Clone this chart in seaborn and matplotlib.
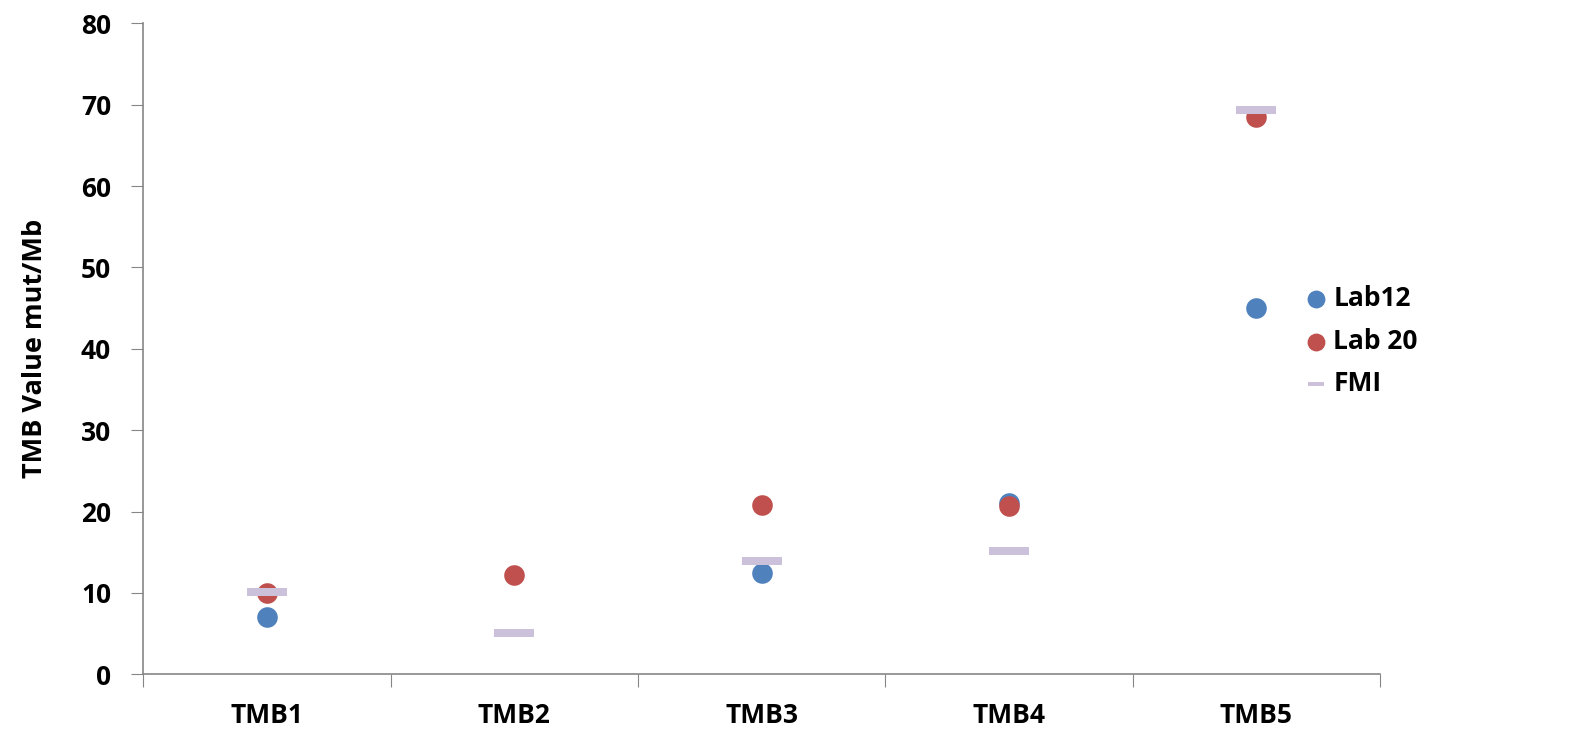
import matplotlib.pyplot as plt
import pandas as pd
import numpy as np
import seaborn as sb
from matplotlib.path import Path

samples = ["TMB1", "TMB2", "TMB3", "TMB4", "TMB5"]
lab12 = [7.1, np.nan, 12.5, 21.0, 45.0]
lab20 = [10.0, 12.2, 20.8, 20.7, 68.5]
fmi = [10.1, 5.1, 13.9, 15.2, 69.4]

sb.set_style("white")
plt.rcParams['font.family'] = ['Open Sans', 'DejaVu Sans']
plt.rcParams['text.color'] = 'black'
plt.rcParams['xtick.color'] = 'black'
plt.rcParams['ytick.color'] = 'black'
plt.rcParams['axes.labelcolor'] = 'black'

df = pd.DataFrame({"sample": samples, "Lab12": lab12, "Lab 20": lab20, "FMI": fmi})

# flat bar marker for FMI
bar = Path([(-1, -0.2), (1, -0.2), (1, 0.2), (-1, 0.2), (-1, -0.2)],
           [Path.MOVETO, Path.LINETO, Path.LINETO, Path.LINETO, Path.CLOSEPOLY])

f, ax = plt.subplots(figsize=(15.81, 7.29), dpi=100)
plt.subplots_adjust(left=0.0905, right=0.873, bottom=0.075, top=0.968)

sb.scatterplot(x="sample", y="Lab12", data=df, color="#4F81BD", s=220, linewidth=0, label="Lab12", ax=ax)
sb.scatterplot(x="sample", y="Lab 20", data=df, color="#C0504D", s=220, linewidth=0, label="Lab 20", ax=ax)
sb.scatterplot(x="sample", y="FMI", data=df, color="#CCC1DA", marker=bar, s=830, linewidth=0, label="FMI", ax=ax)

ax.set_xlim(-0.5, 4.5)
ax.set_ylim(0, 80)
ax.set_yticks(range(0, 81, 10))
ax.set_xticks(np.arange(-0.5, 5, 1), minor=False)
ax.set_xticklabels([])
ax.set_xticks(range(5), minor=True)
ax.set_xticklabels(samples, minor=True, fontsize=19, fontweight='bold')
ax.tick_params(axis='x', which='minor', length=0, pad=20)
ax.tick_params(axis='x', which='major', length=9, color='#868686', direction='out')
ax.tick_params(axis='y', length=9, color='#868686', direction='out', labelsize=19, pad=14)
ax.tick_params(left=True, bottom=True)
for t in ax.get_yticklabels():
    t.set_fontweight('bold')

for s in ['top', 'right']:
    ax.spines[s].set_visible(False)
for s in ['left', 'bottom']:
    ax.spines[s].set_color('#868686')
    ax.spines[s].set_linewidth(1.2)

ax.set_xlabel("")
ax.set_ylabel("TMB Value mut/Mb", fontsize=19.5, fontweight='bold', labelpad=24)

leg = ax.legend(loc='center left', bbox_to_anchor=(0.927, 0.512), frameon=False,
                prop={'weight': 'bold', 'size': 19}, handletextpad=0.05,
                handlelength=1.2, labelspacing=0.6, borderaxespad=0)
leg.legend_handles[0].set_sizes([165])
leg.legend_handles[1].set_sizes([165])
leg.legend_handles[2].set_sizes([135])

plt.savefig("out.png", dpi=100)
